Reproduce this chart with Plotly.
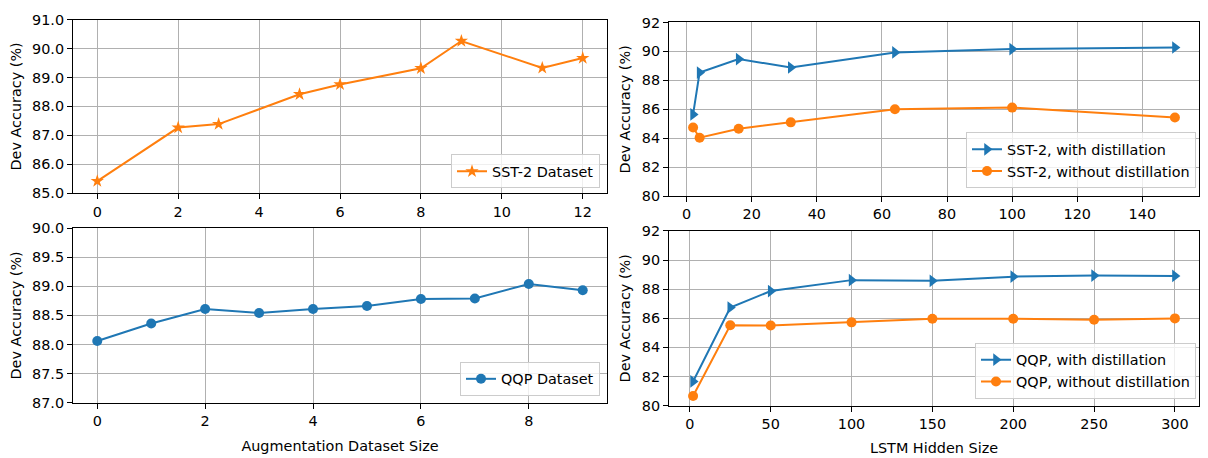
import plotly.graph_objects as go

# ---------------- data ----------------
aug_sst_x = [0, 2, 3, 5, 6, 8, 9, 11, 12]
aug_sst_y = [85.42, 87.27, 87.39, 88.42, 88.76, 89.32, 90.26, 89.33, 89.67]

aug_qqp_x = [0, 1, 2, 3, 4, 5, 6, 7, 8, 9]
aug_qqp_y = [88.06, 88.36, 88.61, 88.54, 88.61, 88.66, 88.78, 88.79, 89.04, 88.93]

sst_hidden = [2, 4, 16, 32, 64, 100, 150]
sst_with = [85.65, 88.54, 89.47, 88.89, 89.93, 90.16, 90.27]
sst_without = [84.74, 84.04, 84.66, 85.10, 86.01, 86.12, 85.43]

qqp_hidden = [2, 25, 50, 100, 150, 200, 250, 300]
qqp_with = [81.66, 86.74, 87.87, 88.62, 88.57, 88.86, 88.93, 88.91]
qqp_without = [80.66, 85.52, 85.50, 85.72, 85.97, 85.97, 85.90, 85.99]

names_tl = ["SST-2 Dataset"]
names_bl = ["QQP Dataset"]
names_tr = ["SST-2, with distillation", "SST-2, without distillation"]
names_br = ["QQP, with distillation", "QQP, without distillation"]

BLUE = "#1f77b4"
ORANGE = "#ff7f0e"
FONT = "DejaVu Sans"
FS = 14.4
W, H = 1208, 458


def pad_range(vals, frac=0.05):
    lo, hi = min(vals), max(vals)
    m = (hi - lo) * frac
    return [lo - m, hi + m]


def px_x(a, b):
    return [a / W, b / W]


def px_y(top, bottom):
    return [1 - bottom / H, 1 - top / H]


fig = go.Figure()

# top-left
fig.add_trace(go.Scatter(x=aug_sst_x, y=aug_sst_y, mode="lines+markers", name=names_tl[0],
                         line=dict(color=ORANGE, width=2),
                         marker=dict(symbol="star", size=10, color=ORANGE),
                         xaxis="x", yaxis="y", legend="legend"))
# top-right
fig.add_trace(go.Scatter(x=sst_hidden, y=sst_with, mode="lines+markers", name=names_tr[0],
                         line=dict(color=BLUE, width=2),
                         marker=dict(symbol="triangle-right", size=11, color=BLUE),
                         xaxis="x2", yaxis="y2", legend="legend2"))
fig.add_trace(go.Scatter(x=sst_hidden, y=sst_without, mode="lines+markers", name=names_tr[1],
                         line=dict(color=ORANGE, width=2),
                         marker=dict(symbol="circle", size=10, color=ORANGE),
                         xaxis="x2", yaxis="y2", legend="legend2"))
# bottom-left
fig.add_trace(go.Scatter(x=aug_qqp_x, y=aug_qqp_y, mode="lines+markers", name=names_bl[0],
                         line=dict(color=BLUE, width=2),
                         marker=dict(symbol="circle", size=10, color=BLUE),
                         xaxis="x3", yaxis="y3", legend="legend3"))
# bottom-right
fig.add_trace(go.Scatter(x=qqp_hidden, y=qqp_with, mode="lines+markers", name=names_br[0],
                         line=dict(color=BLUE, width=2),
                         marker=dict(symbol="triangle-right", size=11, color=BLUE),
                         xaxis="x4", yaxis="y4", legend="legend4"))
fig.add_trace(go.Scatter(x=qqp_hidden, y=qqp_without, mode="lines+markers", name=names_br[1],
                         line=dict(color=ORANGE, width=2),
                         marker=dict(symbol="circle", size=10, color=ORANGE),
                         xaxis="x4", yaxis="y4", legend="legend4"))

axis_common = dict(showline=True, linecolor="black", linewidth=1, mirror=True,
                   showgrid=True, gridcolor="#b0b0b0", gridwidth=1,
                   ticks="outside", ticklen=5, tickwidth=1, tickcolor="black",
                   zeroline=False, tickfont=dict(size=FS, color="black"))

ytitle = dict(text="Dev Accuracy (%)", font=dict(size=FS, color="black"), standoff=7)

layout = dict(
    width=W, height=H,
    margin=dict(l=0, r=0, t=0, b=0),
    paper_bgcolor="white", plot_bgcolor="white",
    font=dict(family=FONT, size=FS, color="black"),
    xaxis=dict(domain=px_x(73, 607), anchor="y", range=pad_range(aug_sst_x), dtick=2, tick0=0,
               **axis_common),
    yaxis=dict(domain=px_y(12, 192), anchor="x", range=[85, 91], dtick=1, tickformat=".1f",
               title=ytitle, **axis_common),
    xaxis2=dict(domain=px_x(669, 1199), anchor="y2", range=pad_range(sst_hidden), dtick=20, tick0=0,
                **axis_common),
    yaxis2=dict(domain=px_y(15, 195), anchor="x2", range=[80, 92], dtick=2,
                title=ytitle, **axis_common),
    xaxis3=dict(domain=px_x(73, 607), anchor="y3", range=pad_range(aug_qqp_x), dtick=2, tick0=0,
                title=dict(text="Augmentation Dataset Size", font=dict(size=FS, color="black"), standoff=12),
                **axis_common),
    yaxis3=dict(domain=px_y(228, 409), anchor="x3", range=[87, 90], dtick=0.5, tickformat=".1f",
                title=ytitle, **axis_common),
    xaxis4=dict(domain=px_x(669, 1199), anchor="y4", range=pad_range(qqp_hidden), dtick=50, tick0=0,
                title=dict(text="LSTM Hidden Size", font=dict(size=FS, color="black"), standoff=12),
                **axis_common),
    yaxis4=dict(domain=px_y(231, 412), anchor="x4", range=[80, 92], dtick=2,
                title=ytitle, **axis_common),
)

legend_common = dict(bgcolor="rgba(255,255,255,0.8)", bordercolor="#cccccc", borderwidth=1,
                     font=dict(size=FS, color="black"), xanchor="right", yanchor="bottom",
                     tracegroupgap=0)
layout["legend"] = dict(x=600 / W, y=1 - 187 / H, **legend_common)
layout["legend2"] = dict(x=1196 / W, y=1 - 187 / H, **legend_common)
layout["legend3"] = dict(x=600 / W, y=1 - 402 / H, **legend_common)
layout["legend4"] = dict(x=1196 / W, y=1 - 405 / H, **legend_common)
layout["showlegend"] = True

fig.update_layout(**layout)
fig.write_html("out.html", config={"displayModeBar": False},
               post_script="document.body.style.margin='0';")
